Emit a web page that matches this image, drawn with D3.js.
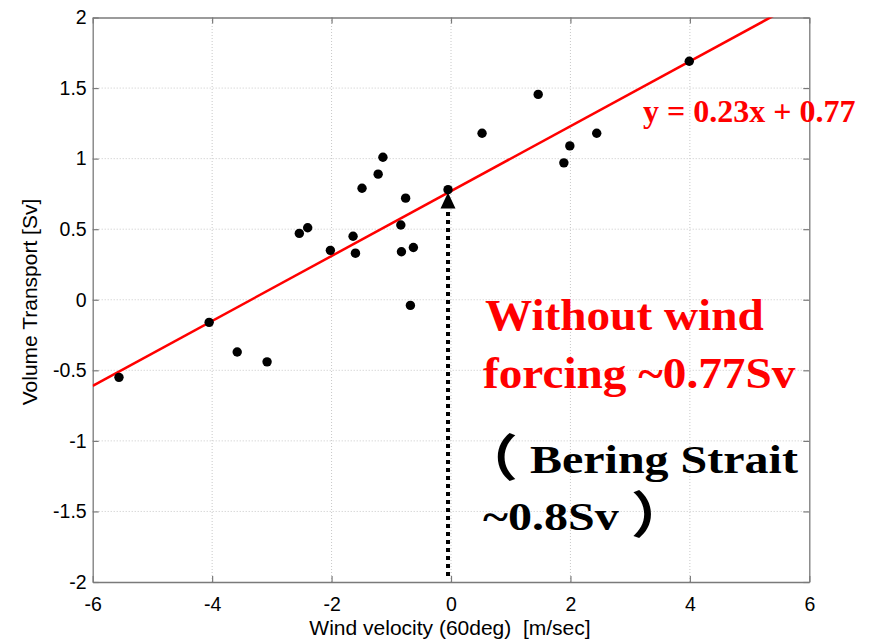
<!DOCTYPE html>
<html>
<head>
<meta charset="utf-8">
<script src="https://cdn.jsdelivr.net/npm/d3@7"></script>
<style>
  html, body { margin: 0; padding: 0; background: #fff; }
  svg { display: block; }
  .tick-label { font-family: "Liberation Sans", Arial, Helvetica, sans-serif; font-size: 19.5px; fill: #000; }
  .axis-title { font-family: "Liberation Sans", Arial, Helvetica, sans-serif; font-size: 21px; fill: #000; }
  .note { font-family: "Liberation Serif", "Times New Roman", "Noto Sans CJK JP", serif; font-weight: bold; }
  .paren { font-family: "Noto Sans CJK JP", "Noto Sans CJK SC", sans-serif; font-weight: 700; }
</style>
</head>
<body>
<script>
// Wind velocity (60deg) vs. volume transport samples
const windVelocity = [-5.56, -4.05, -3.58, -3.08, -2.54, -2.40, -2.02, -1.64, -1.60, -1.49, -1.22, -1.14,
                      -0.76, -0.84, -0.83, -0.63, -0.68, -0.05, 0.52, 1.46, 1.89, 1.99, 2.44, 3.99];
const volumeTransport = [-0.55, -0.16, -0.37, -0.44, 0.47, 0.51, 0.35, 0.45, 0.33, 0.79, 0.89, 1.01,
                         0.72, 0.53, 0.34, 0.37, -0.04, 0.78, 1.18, 1.455, 0.97, 1.09, 1.18, 1.69];

// Linear fit y = slope * x + intercept
const fitSlope = 0.23;
const fitIntercept = 0.77;

const xTicks = [-6, -4, -2, 0, 2, 4, 6];
const yTicks = [-2, -1.5, -1, -0.5, 0, 0.5, 1, 1.5, 2];
const xDomain = [-6, 6];
const yDomain = [-2, 2];

// Arrow marking the zero-wind intercept
const arrowX = -0.05;
const arrowFromY = -2;
const arrowToY = 0.76;

const W = 875, H = 642;
const svg = d3.select("body").append("svg").attr("width", W).attr("height", H);

const x = d3.scaleLinear().domain(xDomain).range([92.7, 809.3]);
const y = d3.scaleLinear().domain(yDomain).range([582, 17.5]);

// plain hyphen for negatives
const fmt = d => String(d);

// dotted grid
svg.append("g").selectAll("line").data(xTicks.slice(1, -1)).join("line")
  .attr("x1", d => x(d)).attr("x2", d => x(d))
  .attr("y1", y(yDomain[0])).attr("y2", y(yDomain[1]))
  .attr("stroke", "#c8c8c8").attr("stroke-width", 1).attr("stroke-dasharray", "1,2");
svg.append("g").selectAll("line").data(yTicks.slice(1, -1)).join("line")
  .attr("x1", x(xDomain[0])).attr("x2", x(xDomain[1]))
  .attr("y1", d => y(d)).attr("y2", d => y(d))
  .attr("stroke", "#c8c8c8").attr("stroke-width", 1).attr("stroke-dasharray", "1,2");

// axes with inward ticks on all four sides
const axisStyle = g => {
  g.select(".domain").attr("stroke", "#7a7a7a").attr("stroke-width", 1.3).attr("fill", "none");
  g.selectAll(".tick line").attr("stroke", "#7a7a7a").attr("stroke-width", 1.2);
};
const restyleLabels = g => g.selectAll("text").attr("class", "tick-label")
  .attr("font-size", null).attr("font-family", null).attr("fill", null);

svg.append("g").attr("transform", `translate(0,${y(yDomain[0])})`)
  .call(d3.axisBottom(x).tickValues(xTicks).tickSizeInner(-6).tickSizeOuter(0).tickPadding(15).tickFormat(fmt))
  .call(axisStyle).call(restyleLabels);

svg.append("g").attr("transform", `translate(0,${y(yDomain[1])})`)
  .call(d3.axisTop(x).tickValues(xTicks).tickSizeInner(-6).tickSizeOuter(0).tickFormat(""))
  .call(axisStyle);

svg.append("g").attr("transform", `translate(${x(xDomain[0])},0)`)
  .call(d3.axisLeft(y).tickValues(yTicks).tickSizeInner(-6).tickSizeOuter(0).tickPadding(6).tickFormat(fmt))
  .call(axisStyle).call(restyleLabels);

svg.append("g").attr("transform", `translate(${x(xDomain[1])},0)`)
  .call(d3.axisRight(y).tickValues(yTicks).tickSizeInner(-6).tickSizeOuter(0).tickFormat(""))
  .call(axisStyle);

// axis titles
svg.append("text").attr("class", "axis-title")
  .attr("x", 450).attr("y", 635).attr("text-anchor", "middle")
  .attr("xml:space", "preserve").style("white-space", "pre")
  .text("Wind velocity (60deg)  [m/sec]");
svg.append("text").attr("class", "axis-title")
  .attr("transform", "translate(37,302) rotate(-90)").attr("text-anchor", "middle")
  .text("Volume Transport [Sv]");

// clip to plotting area
svg.append("clipPath").attr("id", "plot-clip").append("rect")
  .attr("x", x(xDomain[0])).attr("y", y(yDomain[1]))
  .attr("width", x(xDomain[1]) - x(xDomain[0])).attr("height", y(yDomain[0]) - y(yDomain[1]));

// regression line
const fitLine = d3.line().x(d => x(d)).y(d => y(fitSlope * d + fitIntercept));
svg.append("path").attr("clip-path", "url(#plot-clip)")
  .attr("d", fitLine(xDomain))
  .attr("fill", "none").attr("stroke", "#ff0000").attr("stroke-width", 2.5);

// data points
svg.append("g").selectAll("circle").data(windVelocity.map((v, i) => [v, volumeTransport[i]])).join("circle")
  .attr("cx", d => x(d[0])).attr("cy", d => y(d[1])).attr("r", 4.7).attr("fill", "#000");

// dotted arrow up to the intercept
const ax = x(arrowX);
const tipY = y(arrowToY);
svg.append("line")
  .attr("x1", ax).attr("x2", ax).attr("y1", y(arrowFromY) - 6).attr("y2", tipY + 14)
  .attr("stroke", "#000").attr("stroke-width", 4).attr("stroke-dasharray", "4,4");
svg.append("path")
  .attr("d", `M${ax},${tipY} L${ax - 7.5},${tipY + 16} L${ax + 7.5},${tipY + 16} Z`)
  .attr("fill", "#000");

// annotations
svg.append("text").attr("class", "note").attr("x", 643).attr("y", 122)
  .attr("font-size", 32).attr("fill", "#ff0000")
  .text(`y = ${fitSlope}x + ${fitIntercept}`);

const note = (tx, ty, size, sx, color, parts) => {
  const t = svg.append("text").attr("class", "note")
    .attr("transform", `translate(${tx},${ty}) scale(${sx},1)`)
    .attr("font-size", size).attr("fill", color);
  parts.forEach(p => t.append("tspan")
    .attr("class", p.paren ? "paren" : null)
    .attr("font-size", p.paren ? size * 1.25 : null)
    .attr("dy", p.dy || null)
    .text(p.s));
};

note(485, 330, 45, 1.05, "#ff0000", [{ s: "Without wind" }]);
note(483, 388, 45, 1.05, "#ff0000", [{ s: "forcing ~0.77Sv" }]);
note(458, 473, 40, 1.2, "#000", [{ s: "（", paren: true, dy: 3 }, { s: " Bering Strait", dy: -3 }]);
note(483, 530, 40, 1.2, "#000", [{ s: "~0.8Sv " }, { s: "）", paren: true, dy: 3 }]);
</script>
</body>
</html>
